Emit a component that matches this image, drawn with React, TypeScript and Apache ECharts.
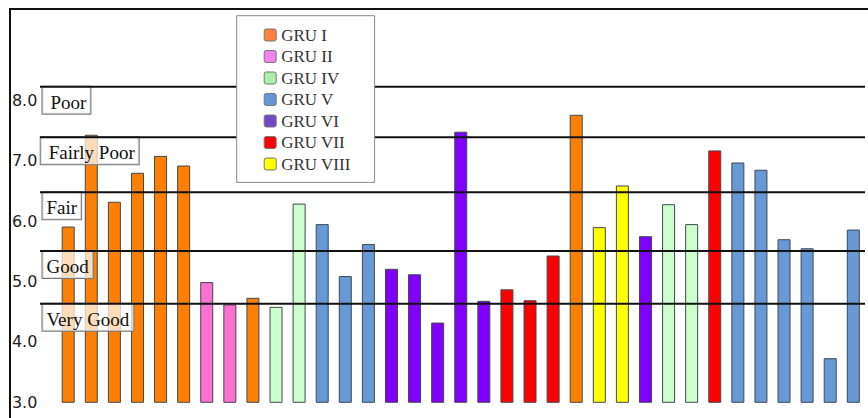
import React, { useEffect, useRef } from "react";
import * as echarts from "echarts";

const groupNames = ["GRU I", "GRU II", "GRU IV", "GRU V", "GRU VI", "GRU VII", "GRU VIII"];
const barColors = ["#FF8000", "#FF70D0", "#CCFFCC", "#6699D6", "#8000FF", "#FF0000", "#FFFF00"];
const legendColors = ["#FF7F40", "#EE82EE", "#A8F0A8", "#6496D8", "#7048C4", "#FF0000", "#FFFF00"];

const categories = Array.from({ length: 35 }, (_, i) => String(i + 1));
const values = [
  5.91, 7.43, 6.32, 6.8, 7.08, 6.92, 4.99, 4.62, 4.73, 4.58, 6.29, 5.95, 5.09, 5.62, 5.21, 5.12, 4.32, 7.48,
  4.68, 4.87, 4.69, 5.43, 7.76, 5.9, 6.59, 5.75, 6.28, 5.95, 7.17, 6.97, 6.85, 5.7, 5.55, 3.73, 5.86,
];
const groups = [
  "GRU I", "GRU I", "GRU I", "GRU I", "GRU I", "GRU I", "GRU II", "GRU II", "GRU I", "GRU IV", "GRU IV",
  "GRU V", "GRU V", "GRU V", "GRU VI", "GRU VI", "GRU VI", "GRU VI", "GRU VI", "GRU VII", "GRU VII", "GRU VII",
  "GRU I", "GRU VIII", "GRU VIII", "GRU VI", "GRU IV", "GRU IV", "GRU VII", "GRU V", "GRU V", "GRU V", "GRU V",
  "GRU V", "GRU V",
];
const yTicks = [3, 4, 5, 6, 7, 8];
const thresholdNames = ["Poor", "Fairly Poor", "Fair", "Good", "Very Good"];
const thresholdValues = [8.225, 7.387, 6.477, 5.505, 4.632];

const iconPath =
  "path://M2,0H10A2,2 0 0 1 12,2V10A2,2 0 0 1 10,12H2A2,2 0 0 1 0,10V2A2,2 0 0 1 2,0Z";

export default function App() {
  const ref = useRef<HTMLDivElement>(null);
  useEffect(() => {
    if (!ref.current) return;
    const chart = echarts.init(ref.current, null, { renderer: "svg" });
    const series = groupNames.map((g, gi) => ({
      name: g,
      type: "bar",
      barWidth: 13,
      barGap: "-100%",
      itemStyle: { color: barColors[gi], borderColor: "#404850", borderWidth: 1 },
      data: values.map((v, i) => (groups[i] === g ? v : null)),
      z: 2,
    }));
    chart.setOption({
      animation: false,
      grid: { left: 56.65, right: 3.15, top: 39.9, bottom: 15.7, containLabel: false },
      legend: {
        orient: "vertical",
        left: 236.7,
        top: 15.7,
        padding: [10.8, 24, 9.9, 27],
        itemWidth: 12,
        itemHeight: 12,
        itemGap: 4.5,
        itemTextGap: 8,
        icon: iconPath,
        backgroundColor: "#ffffff",
        borderColor: "#888888",
        borderWidth: 1,
        selectedMode: false,
        textStyle: { fontFamily: "Liberation Serif", fontSize: 17, color: "#333" },
        data: groupNames.map((g, gi) => ({
          name: g,
          itemStyle: { color: legendColors[gi], borderColor: "#777", borderWidth: 1 },
        })),
        z: 10,
      },
      xAxis: {
        type: "category",
        data: categories,
        axisLine: { show: false },
        axisTick: { show: false },
        axisLabel: { show: false },
        splitLine: { show: false },
      },
      yAxis: {
        type: "value",
        min: 3,
        max: 9,
        interval: 1,
        axisLine: { show: false },
        axisTick: { show: false },
        splitLine: { show: false },
        axisLabel: {
          margin: 19.3,
          fontFamily: "DejaVu Sans",
          fontSize: 16,
          color: "#222",
          padding: [5, 0, 0, 0],
          formatter: (v: number) => (yTicks.includes(v) ? v.toFixed(1) : ""),
        },
      },
      series,
    });
    const graphics: any[] = [
      {
        type: "rect",
        shape: { x: 10, y: 9, width: 900, height: 500 },
        style: { fill: "none", stroke: "#111", lineWidth: 2 },
        z: 20,
      },
    ];
    thresholdValues.forEach((tv, i) => {
      const y = chart.convertToPixel({ yAxisIndex: 0 }, tv) as number;
      const padLeft = i < 2 ? 8 : 4;
      graphics.push({
        type: "text",
        x: i === 1 ? 40.7 : 42.5,
        y: y,
        style: {
          text: thresholdNames[i],
          fontFamily: "Liberation Serif",
          fontSize: 19,
          lineHeight: 19,
          fill: "#111",
          verticalAlign: "top",
          align: "left",
          backgroundColor: "rgba(255,255,255,0.72)",
          borderColor: "#777",
          borderWidth: 1,
          padding: [6, 4, 2, padLeft],
        },
        z: 5,
      });
      graphics.push({
        type: "line",
        shape: { x1: 40, y1: y, x2: 865, y2: y },
        style: { stroke: "#111", lineWidth: 2 },
        z: 6,
      });
    });
    chart.setOption({ graphic: graphics });
    return () => chart.dispose();
  }, []);
  return (
    <div
      ref={ref}
      style={{ position: "fixed", left: 0, top: 0, width: 868, height: 418, background: "#fff" }}
    />
  );
}
